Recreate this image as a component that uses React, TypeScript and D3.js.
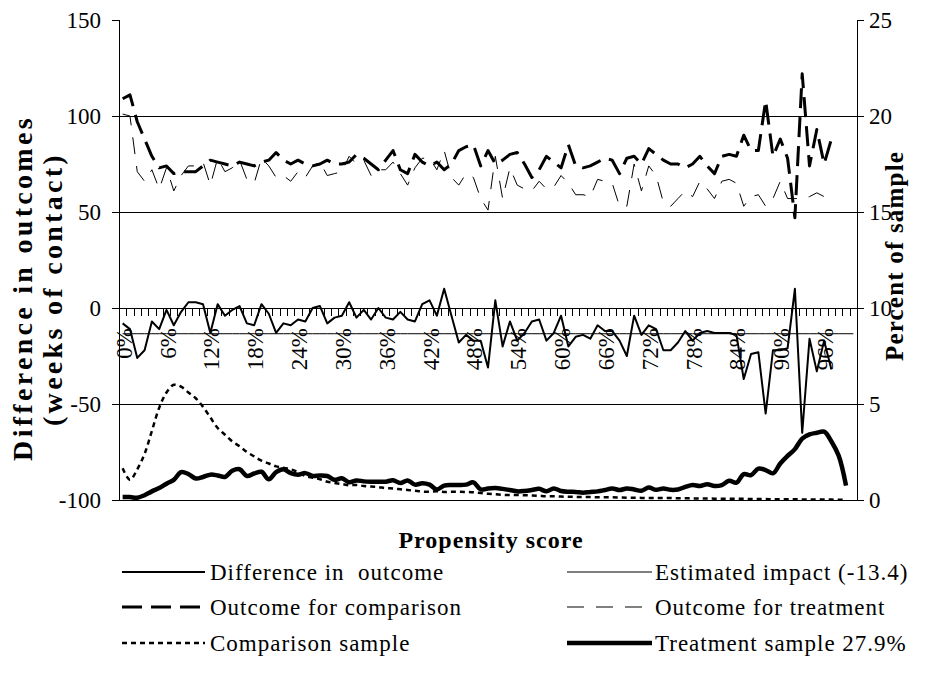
import React from 'react';
import * as d3 from 'd3';

// ---------------- data ----------------
const categories: string[] = d3.range(101).map((i) => `${i}%`);
const xLabelStep = 6;

const leftTicks = [-100, -50, 0, 50, 100, 150];
const rightTicks = [0, 5, 10, 15, 20, 25];

const differenceInOutcome = [
  -8, -11, -26, -22, -7, -11, -1, -9, -2, 3,
  3, 2, -13, 2, -4, -1, 1, -8, -9, 2,
  -3, -13, -8, -9, -6, -7, 0, 1, -8, -5,
  -4, 3, -5, -1, -6, 0, -5, -6, -2, -6,
  -7, 2, 4, -4, 10, -4, -18, -14, -17, -17,
  -31, 4, -20, -7, -17, -13, -7, -6, -17, -13,
  -4, -20, -15, -14, -16, -9, -12, -12, -17, -25,
  -4, -14, -9, -11, -22, -22, -18, -12, -17, -13,
  -12, -13, -13, -13, -14, -37, -24, -23, -55, -22,
  -22, -21, 10, -65, -16, -33, -17, -32,
];

const estimatedImpact = -13.4;

const outcomeComparison = [
  109, 111, 97, 88, 79, 73, 74, 70, 71, 71,
  71, 74, 77, 76, 75, 74, 76, 75, 74, 76,
  77, 81, 77, 75, 77, 75, 74, 75, 77, 75,
  75, 76, 80, 78, 75, 72, 77, 82, 72, 70,
  80, 76, 74, 76, 72, 75, 82, 84, 85, 74,
  82, 75, 77, 80, 81, 75, 68, 72, 79, 76,
  73, 85, 74, 73, 74, 76, 78, 77, 70, 78,
  79, 75, 83, 80, 77, 75, 75, 73, 75, 79,
  74, 70, 79, 80, 79, 90, 82, 82, 108, 79,
  88, 78, 47, 122, 74, 93, 75, 88,
];

const outcomeTreatment = [
  101, 100, 71, 66, 72, 62, 73, 61, 69, 74,
  74, 76, 64, 78, 71, 73, 77, 67, 65, 78,
  74, 68, 69, 66, 71, 68, 74, 76, 69, 70,
  71, 79, 75, 77, 69, 72, 72, 76, 70, 64,
  73, 78, 78, 72, 82, 68, 64, 70, 68, 57,
  51, 79, 57, 73, 64, 62, 61, 66, 62, 63,
  69, 65, 59, 59, 58, 67, 66, 65, 53, 53,
  75, 61, 74, 69, 55, 53, 57, 61, 58, 66,
  62, 57, 66, 67, 65, 53, 58, 59, 53, 57,
  66, 57, 57, 57, 58, 60, 58, 56,
];

const comparisonSample = [
  1.65, 1.05, 1.6, 2.4, 3.6, 4.8, 5.6, 6.0, 5.9, 5.6,
  5.3, 4.85, 4.3, 3.75, 3.4, 3.05, 2.8, 2.5, 2.27, 2.05,
  1.9, 1.75, 1.68, 1.6, 1.45, 1.25, 1.16, 1.08, 0.95, 0.89,
  0.83, 0.77, 0.78, 0.73, 0.7, 0.67, 0.62, 0.6, 0.56, 0.52,
  0.48, 0.44, 0.43, 0.45, 0.42, 0.43, 0.43, 0.42, 0.4, 0.36,
  0.32, 0.3, 0.27, 0.26, 0.26, 0.25, 0.24, 0.22, 0.2, 0.2,
  0.18, 0.17, 0.16, 0.16, 0.15, 0.14, 0.14, 0.14, 0.13, 0.12,
  0.12, 0.11, 0.11, 0.1, 0.1, 0.1, 0.09, 0.09, 0.08, 0.08,
  0.08, 0.07, 0.07, 0.06, 0.06, 0.06, 0.05, 0.05, 0.05, 0.04,
  0.04, 0.04, 0.04, 0.03, 0.03, 0.03, 0.02, 0.02, 0.01, 0.01,
];

const treatmentSample = [
  0.15, 0.15, 0.12, 0.25, 0.45, 0.62, 0.85, 1.05, 1.45, 1.35,
  1.12, 1.2, 1.32, 1.28, 1.2, 1.52, 1.6, 1.25, 1.38, 1.47,
  1.08, 1.45, 1.6, 1.4, 1.32, 1.4, 1.25, 1.28, 1.25, 1.05,
  1.13, 0.92, 1.02, 0.97, 0.95, 0.95, 0.95, 1.03, 0.88, 1.02,
  0.8, 0.87, 0.8, 0.55, 0.75, 0.78, 0.78, 0.8, 0.92, 0.55,
  0.6, 0.62, 0.58, 0.52, 0.45, 0.47, 0.52, 0.58, 0.45, 0.6,
  0.47, 0.43, 0.42, 0.38, 0.42, 0.45, 0.52, 0.6, 0.52, 0.6,
  0.55, 0.48, 0.65, 0.53, 0.6, 0.53, 0.55, 0.68, 0.78, 0.73,
  0.82, 0.73, 0.78, 1.0, 0.9, 1.35, 1.3, 1.63, 1.56, 1.39,
  1.9, 2.3, 2.65, 3.2, 3.42, 3.5, 3.56, 3.05, 2.3, 0.75,
];

const legendLabels = [
  'Difference in  outcome',
  'Estimated impact (-13.4)',
  'Outcome for comparison',
  'Outcome for treatment',
  'Comparison sample',
  'Treatment sample 27.9%',
];

const leftTitle = ['Difference in outcomes', '(weeks of contact)'];
const rightTitle = 'Percent of sample';
const xTitle = 'Propensity score';

// ---------------- styles ----------------
const W = 950;
const H = 694;
const M = { left: 119, right: 857, top: 20, bottom: 500 };
const FONT = '"Liberation Serif", "Times New Roman", serif';

const seriesStyle = [
  { width: 2, dash: 'none' },
  { width: 1, dash: 'none' },
  { width: 3, dash: '20,9' },
  { width: 1, dash: '17,12' },
  { width: 2.5, dash: '5,4' },
  { width: 4.5, dash: 'none' },
];

export default function App() {
  const x = d3.scaleBand<string>().domain(categories).range([M.left, M.right]);
  const cx = (i: number) => (x(categories[i]) ?? 0) + x.bandwidth() / 2;
  const yL = d3.scaleLinear().domain([-100, 150]).range([M.bottom, M.top]);
  const yR = d3.scaleLinear().domain([0, 25]).range([M.bottom, M.top]);

  const lineL = d3
    .line<number>()
    .x((_, i) => cx(i))
    .y((d) => yL(d));
  const lineR = d3
    .line<number>()
    .x((_, i) => cx(i))
    .y((d) => yR(d))
    .curve(d3.curveCatmullRom.alpha(0.5));

  const impactLine = categories.map(() => estimatedImpact);
  const y0 = yL(0);

  const tickBounds = categories.map((c) => x(c) ?? 0).concat([M.right]);

  const legendRows = [572, 607, 643];
  const legendCols = [
    { x1: 122, x2: 205, tx: 210 },
    { x1: 567, x2: 652, tx: 655 },
  ];

  const paths = [
    lineL(differenceInOutcome),
    lineL(impactLine),
    lineL(outcomeComparison),
    lineL(outcomeTreatment),
    lineR(comparisonSample),
    lineR(treatmentSample),
  ];

  return (
    <svg
      width={W}
      height={H}
      style={{ position: 'absolute', left: 0, top: 0, background: '#fff' }}
      fontFamily={FONT}
    >
      <rect x={0} y={0} width={W} height={H} fill="#fff" />
      {/* gridlines */}
      {leftTicks
        .filter((t) => t !== 0 && t !== 150)
        .map((t) => (
          <line
            key={`g${t}`}
            x1={M.left}
            x2={M.right}
            y1={Math.round(yL(t)) + 0.5}
            y2={Math.round(yL(t)) + 0.5}
            stroke="#000"
            strokeWidth={1}
          />
        ))}

      {/* left axis */}
      <line x1={M.left + 0.5} x2={M.left + 0.5} y1={M.top} y2={M.bottom} stroke="#000" />
      {leftTicks.map((t) => (
        <g key={`l${t}`}>
          <line
            x1={M.left - 7}
            x2={M.left}
            y1={Math.round(yL(t)) + 0.5}
            y2={Math.round(yL(t)) + 0.5}
            stroke="#000"
          />
          <text x={101} y={yL(t)} dy="0.35em" textAnchor="end" fontSize={23}>
            {t}
          </text>
        </g>
      ))}

      {/* right axis */}
      <line x1={M.right + 0.5} x2={M.right + 0.5} y1={M.top} y2={M.bottom} stroke="#000" />
      {rightTicks.map((t) => (
        <g key={`r${t}`}>
          <line
            x1={M.right}
            x2={M.right + 7}
            y1={Math.round(yR(t)) + 0.5}
            y2={Math.round(yR(t)) + 0.5}
            stroke="#000"
          />
          <text x={869} y={yR(t)} dy="0.35em" textAnchor="start" fontSize={23}>
            {t}
          </text>
        </g>
      ))}

      {/* category axis at 0 */}
      <line x1={M.left} x2={M.right} y1={Math.round(y0) + 0.5} y2={Math.round(y0) + 0.5} stroke="#000" />
      {tickBounds.map((bx, i) => (
        <line
          key={`t${i}`}
          x1={Math.round(bx) + 0.5}
          x2={Math.round(bx) + 0.5}
          y1={y0}
          y2={y0 + 8}
          stroke="#000"
        />
      ))}
      {categories.map((c, i) =>
        i % xLabelStep === 0 ? (
          <text
            key={`xl${c}`}
            transform={`translate(${cx(i) + 1},${y0 + 20}) rotate(-90)`}
            dy="0.35em"
            textAnchor="end"
            fontSize={23}
          >
            {c}
          </text>
        ) : null
      )}

      {/* series */}
      {paths.map((d, k) => (
        <path
          key={`s${k}`}
          d={d ?? ''}
          fill="none"
          stroke="#000"
          strokeWidth={seriesStyle[k].width}
          strokeDasharray={seriesStyle[k].dash}
          strokeLinejoin="round"
        />
      ))}

      {/* axis titles */}
      <text
        transform="translate(22,288) rotate(-90)"
        textAnchor="middle"
        dy="0.35em"
        fontSize={28}
        fontWeight="bold"
        letterSpacing={3.3}
      >
        {leftTitle[0]}
      </text>
      <text
        transform="translate(52,289) rotate(-90)"
        textAnchor="middle"
        dy="0.35em"
        fontSize={28}
        fontWeight="bold"
        letterSpacing={3.3}
      >
        {leftTitle[1]}
      </text>
      <text
        transform="translate(894,256) rotate(-90)"
        textAnchor="middle"
        dy="0.35em"
        fontSize={25}
        fontWeight="bold"
        letterSpacing={1.2}
      >
        {rightTitle}
      </text>
      <text x={491} y={540} dy="0.35em" textAnchor="middle" fontSize={24} fontWeight="bold" letterSpacing={1}>
        {xTitle}
      </text>

      {/* legend */}
      {legendLabels.map((label, k) => {
        const row = legendRows[Math.floor(k / 2)];
        const col = legendCols[k % 2];
        return (
          <g key={`lg${k}`}>
            <line
              x1={col.x1}
              x2={col.x2}
              y1={row}
              y2={row}
              stroke="#000"
              strokeWidth={seriesStyle[k].width}
              strokeDasharray={seriesStyle[k].dash}
            />
            <text
              x={col.tx}
              y={row}
              dy="0.35em"
              fontSize={23}
              letterSpacing={1}
              style={{ whiteSpace: 'pre' }}
            >
              {label}
            </text>
          </g>
        );
      })}
    </svg>
  );
}
